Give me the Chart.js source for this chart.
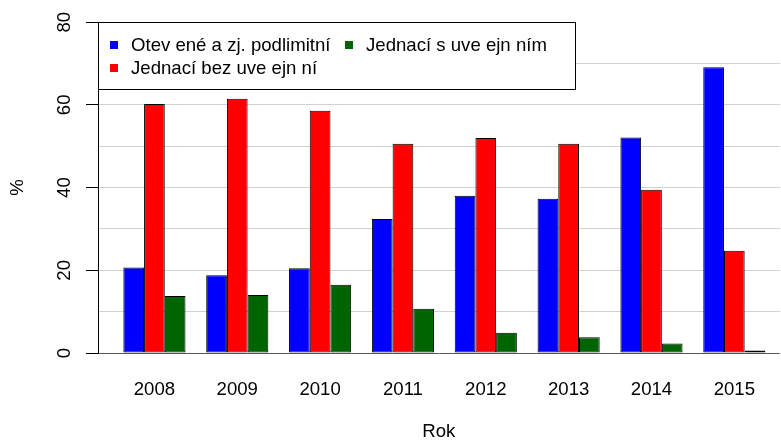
<!DOCTYPE html>
<html>
<head>
<meta charset="utf-8">
<script src="https://cdn.jsdelivr.net/npm/chart.js@4.4.0/dist/chart.umd.min.js"></script>
<style>
  body { margin: 0; background: #fff; }
</style>
</head>
<body>
<canvas id="myChart" width="781" height="443"></canvas>
<script>
const years = [2008, 2009, 2010, 2011, 2012, 2013, 2014, 2015]
const otevrene = [20.7, 18.8, 20.5, 32.4, 38.0, 37.3, 52.1, 69.1]
const bezUverejneni = [60.2, 61.5, 58.6, 50.6, 52.0, 50.6, 39.5, 24.7]
const sUverejnenim = [13.8, 14.0, 16.5, 10.7, 4.9, 3.8, 2.3, 0.6]
const seriesNames = ["Otev ené a zj. podlimitní", "Jednací bez uve ejn ní", "Jednací s uve ejn ním"]
const seriesColors = ["#0000ff", "#ff0000", "#006400"]
const yTicks = [0, 20, 40, 60, 80]

const FONT = "'Liberation Sans', Arial, Helvetica, sans-serif"
Chart.defaults.font.family = FONT
Chart.defaults.font.size = 18.6
Chart.defaults.color = '#000'

function toPoints(vals) {
  return years.map((y, i) => ({ x: y, y: vals[i] }))
}

// R style legend box in the top left corner of the plot
const boxLegend = {
  id: 'boxLegend',
  afterDraw(chart) {
    const ctx = chart.ctx
    const a = chart.chartArea
    const left = Math.round(a.left), top = Math.round(a.top)
    ctx.save()
    ctx.fillStyle = '#fff'
    ctx.fillRect(left, top, 477, 67)
    ctx.strokeStyle = '#000'
    ctx.lineWidth = 1
    ctx.strokeRect(left + 0.5, top + 0.5, 477, 67)
    // column fill like legend(ncol=2)
    const spots = [[12, 23], [12, 46], [247, 23]]
    ctx.font = '18.6px ' + FONT
    ctx.textBaseline = 'middle'
    ctx.textAlign = 'left'
    chart.data.datasets.forEach((ds, i) => {
      const sx = left + spots[i][0], sy = top + spots[i][1]
      ctx.fillStyle = ds.backgroundColor
      ctx.fillRect(sx, sy - 4, 8, 8)
      ctx.fillStyle = '#000'
      ctx.fillText(ds.label, sx + 21, sy + 1)
    })
    ctx.restore()
  }
}

new Chart(document.getElementById('myChart'), {
  type: 'bar',
  data: {
    datasets: [otevrene, bezUverejneni, sUverejnenim].map((vals, i) => ({
      label: seriesNames[i],
      data: toPoints(vals),
      backgroundColor: seriesColors[i],
      borderColor: '#000',
      borderWidth: 1,
      borderSkipped: false,
      categoryPercentage: 0.75,
      barPercentage: 1
    }))
  },
  options: {
    responsive: false,
    animation: false,
    layout: { padding: { top: 22, right: 0, bottom: 0, left: 0 } },
    plugins: { legend: { display: false }, tooltip: { enabled: false } },
    scales: {
      x: {
        type: 'linear',
        offset: false,
        min: 2007.319,
        max: 2015.548,
        afterBuildTicks(scale) { scale.ticks = years.map(v => ({ value: v })) },
        afterFit(scale) { scale.height = 90 },
        grid: { display: false, drawTicks: false },
        border: { display: false },
        ticks: { padding: 26, maxRotation: 0, autoSkip: false, callback: v => String(v) },
        title: { display: true, text: 'Rok', padding: { top: 0, bottom: 0 } }
      },
      y: {
        min: 0,
        max: 80,
        afterFit(scale) { scale.width = 98 },
        ticks: {
          stepSize: 10,
          minRotation: 90,
          maxRotation: 90,
          crossAlign: 'center',
          padding: 11,
          callback: v => yTicks.includes(v) ? String(v) : ''
        },
        grid: {
          color: c => c.tick.value === 0 ? '#555' : (c.tick.value === 80 ? 'rgba(0,0,0,0)' : '#d0d0d0'),
          tickColor: c => yTicks.includes(c.tick.value) ? '#000' : 'rgba(0,0,0,0)',
          tickLength: 12
        },
        border: { color: '#000', width: 1 },
        title: { display: true, text: '%', padding: { top: 7, bottom: 0 } }
      }
    }
  },
  plugins: [boxLegend]
})
</script>
</body>
</html>
